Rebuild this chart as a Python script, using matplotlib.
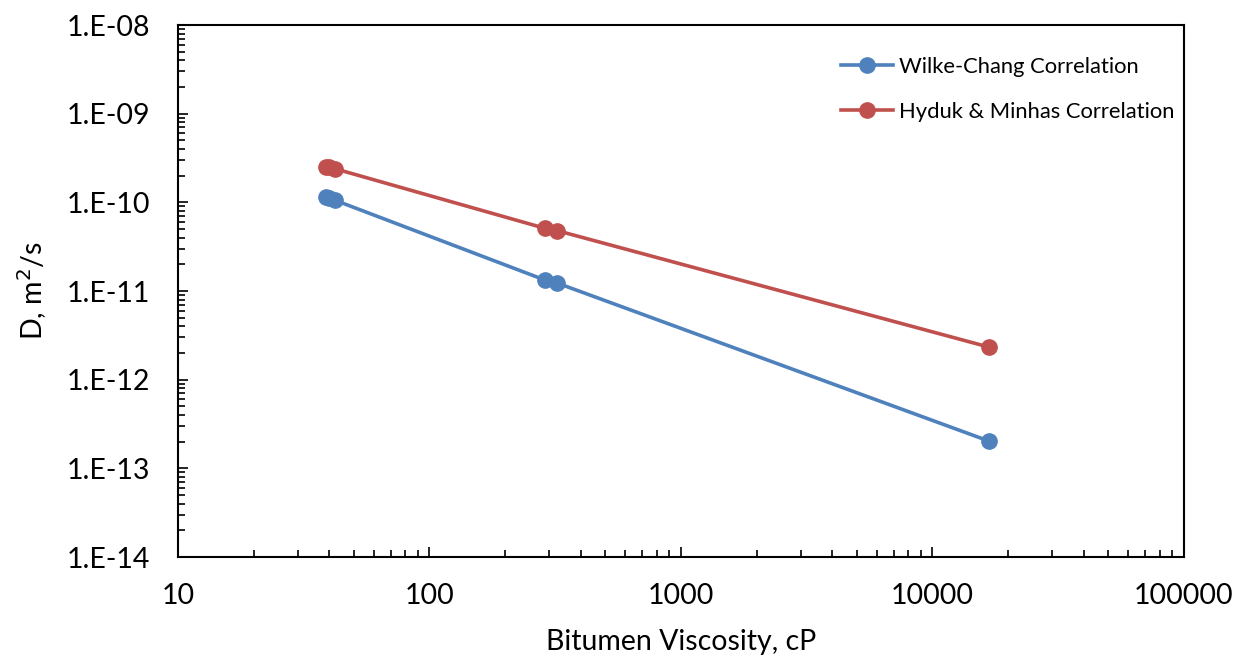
import matplotlib
matplotlib.use("Agg")
import matplotlib.pyplot as plt
from matplotlib.ticker import LogLocator, FixedLocator, NullFormatter

plt.rcParams['font.family'] = ['Lato', 'DejaVu Sans']

# Data
wc_visc = [38.6, 39.8, 42.0, 288, 322, 16700]
wc_D = [1.15e-10, 1.12e-10, 1.06e-10, 1.33e-11, 1.23e-11, 2.04e-13]
hm_visc = [38.6, 39.8, 42.0, 288, 322, 16700]
hm_D = [2.5e-10, 2.48e-10, 2.4e-10, 5.1e-11, 4.8e-11, 2.34e-12]
series_labels = ["Wilke-Chang Correlation", "Hyduk & Minhas Correlation"]
x_ticks = [10, 100, 1000, 10000, 100000]
y_ticks = [1e-14, 1e-13, 1e-12, 1e-11, 1e-10, 1e-9, 1e-8]
y_ticklabels = ["1.E-14", "1.E-13", "1.E-12", "1.E-11", "1.E-10", "1.E-09", "1.E-08"]

fig = plt.figure(figsize=(12.42, 6.6), dpi=100)
ax = fig.add_axes([0.1433, 0.156, 0.81, 0.806])

blue = "#4F81BD"
red = "#C0504D"
ax.plot(wc_visc, wc_D, color=blue, lw=2.6, marker='o', ms=11, label=series_labels[0])
ax.plot(hm_visc, hm_D, color=red, lw=2.6, marker='o', ms=11, label=series_labels[1])

ax.set_xscale('log')
ax.set_yscale('log')
ax.set_xlim(10, 100000)
ax.set_ylim(1e-14, 1e-8)

ax.xaxis.set_major_locator(FixedLocator(x_ticks))
ax.set_xticklabels([str(v) for v in x_ticks])
ax.xaxis.set_minor_locator(LogLocator(base=10, subs=range(2, 10)))
ax.xaxis.set_minor_formatter(NullFormatter())
ax.yaxis.set_major_locator(FixedLocator(y_ticks))
ax.set_yticklabels(y_ticklabels)
ax.yaxis.set_minor_locator(LogLocator(base=10, subs=range(2, 10)))
ax.yaxis.set_minor_formatter(NullFormatter())

ax.tick_params(which='both', direction='in', top=False, right=False, labelsize=20.5, color='black', width=1.2)
ax.tick_params(which='major', length=7)
ax.tick_params(which='minor', length=5)
ax.tick_params(axis='y', which='major', pad=20)
ax.tick_params(axis='x', which='major', pad=19)
for s in ax.spines.values():
    s.set_color('black')
    s.set_linewidth(1.5)

ax.set_xlabel("Bitumen Viscosity, cP", fontsize=20.5, labelpad=14)
ax.set_ylabel("D, m$^2$/s", fontsize=20.5, labelpad=13)

ax.legend(loc='upper right', bbox_to_anchor=(1.01, 0.977), frameon=False, fontsize=15.8,
          handlelength=2.4, labelspacing=1.12, handletextpad=0.25)

fig.savefig("out.png", dpi=100)
